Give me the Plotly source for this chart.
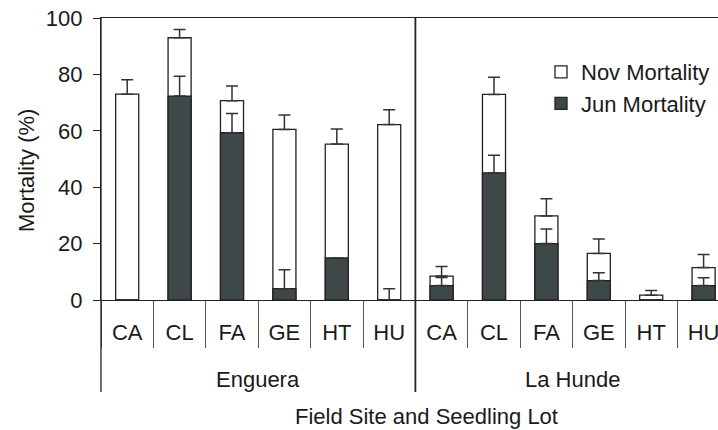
import plotly.graph_objects as go

# ---- data ----
lots = ["CA", "CL", "FA", "GE", "HT", "HU", "CA", "CL", "FA", "GE", "HT", "HU"]
sites = ["Enguera", "La Hunde"]
lots_per_site = 6
nov_mortality = [73.0, 93.0, 70.7, 60.5, 55.3, 62.2, 8.5, 72.9, 29.8, 16.5, 1.7, 11.5]
nov_error = [5.1, 2.9, 5.2, 5.1, 5.3, 5.3, 3.4, 6.1, 6.1, 5.1, 1.7, 4.6]
jun_mortality = [0.0, 72.3, 59.3, 4.0, 14.9, 0.0, 5.1, 45.1, 20.0, 6.9, 0.0, 5.1]
jun_error = [None, 7.0, 6.8, 6.7, None, 4.0, 2.9, 6.2, 5.2, 2.8, None, 2.8]
y_ticks = [0, 20, 40, 60, 80, 100]

# ---- layout geometry ----
W, H = 718, 430
L, T, B = 101, 18, 130
plot_w = W - L
plot_h = H - T - B
cat_px = 52.4
x_hi = plot_w / cat_px - 0.5
x_range = [-0.5, x_hi]
span = x_hi + 0.5

def px_x(p):
    return (p - L) / plot_w

def px_y(p):
    return (H - B - p) / plot_h

def data_x(v):
    return (v + 0.5) / span

FONT = "Liberation Sans, Arial, sans-serif"
TXT = "#1a1a1a"
idx = list(range(len(lots)))

fig = go.Figure()
fig.add_trace(go.Bar(
    x=idx, y=nov_mortality, name="Nov Mortality", width=0.44,
    marker=dict(color="white", line=dict(color="#222222", width=1.3)),
    error_y=dict(type="data", symmetric=False, array=nov_error,
                 arrayminus=[0] * len(nov_error),
                 color="#333333", thickness=1.5, width=6),
    legendgroup="a",
))
fig.add_trace(go.Bar(
    x=idx, y=jun_mortality, name="Jun Mortality", width=0.44,
    marker=dict(color="#3f4848", line=dict(color="#222222", width=1.3)),
    error_y=dict(type="data", symmetric=False, array=jun_error,
                 arrayminus=[0] * len(jun_error),
                 color="#333333", thickness=1.5, width=6),
    legendgroup="b",
))

shapes = []
# left axis extended down through label area
shapes.append(dict(type="line", xref="paper", yref="paper", x0=0, x1=0,
                   y0=px_y(392), y1=1, line=dict(color="#222222", width=1.3)))
# site separator
for s in range(1, len(sites)):
    xb = data_x(s * lots_per_site - 0.5)
    shapes.append(dict(type="line", xref="paper", yref="paper", x0=xb, x1=xb,
                       y0=px_y(392), y1=px_y(17), line=dict(color="#222222", width=1.8)))

annotations = []
for i, s in enumerate(sites):
    xc = data_x(i * lots_per_site + (lots_per_site - 1) / 2)
    annotations.append(dict(text=s, x=xc, y=px_y(379), xref="paper", yref="paper",
                            showarrow=False, xanchor="center", yanchor="middle",
                            font=dict(size=22, color=TXT, family=FONT)))
annotations.append(dict(text="Field Site and Seedling Lot", x=px_x(426.5), y=px_y(416),
                        xref="paper", yref="paper", showarrow=False,
                        xanchor="center", yanchor="middle",
                        font=dict(size=22, color=TXT, family=FONT)))
annotations.append(dict(text="Mortality (%)", x=px_x(26), y=px_y(171),
                        xref="paper", yref="paper", showarrow=False, textangle=-90,
                        xanchor="center", yanchor="middle",
                        font=dict(size=22, color=TXT, family=FONT)))

fig.update_layout(
    width=W, height=H, autosize=False,
    margin=dict(l=L, r=0, t=T, b=B, pad=0),
    paper_bgcolor="white", plot_bgcolor="white",
    barmode="overlay",
    font=dict(family=FONT, size=22, color=TXT),
    showlegend=True,
    legend=dict(x=px_x(541), y=px_y(51), xanchor="left", yanchor="top",
                bgcolor="rgba(0,0,0,0)", font=dict(size=22, color=TXT, family=FONT),
                traceorder="normal", tracegroupgap=5, itemwidth=30),
    shapes=shapes,
    annotations=annotations,
)
fig.update_xaxes(
    range=x_range, tickmode="array", tickvals=idx, ticktext=lots,
    ticks="", showline=True, linecolor="#222222", linewidth=1.3, mirror=True,
    showgrid=False, zeroline=False, ticklabelstandoff=12,
    ticklabeloverflow="allow",
    tickfont=dict(size=22, color=TXT, family=FONT),
    minor=dict(tickmode="array", tickvals=[i - 0.5 for i in range(len(lots) + 1)],
               ticks="outside", ticklen=47, tickcolor="#555555", tickwidth=1),
)
fig.update_yaxes(
    range=[0, 100], tickmode="array", tickvals=y_ticks,
    ticks="outside", ticklen=7, tickcolor="#222222", tickwidth=1.3,
    showline=True, linecolor="#222222", linewidth=1.3,
    showgrid=False, zeroline=False, ticklabelstandoff=6,
    tickfont=dict(size=22, color=TXT, family=FONT),
)

fig.write_html(
    "out.html",
    config={"displayModeBar": False},
    post_script="document.body.style.margin='0';document.body.style.overflow='hidden';",
)
